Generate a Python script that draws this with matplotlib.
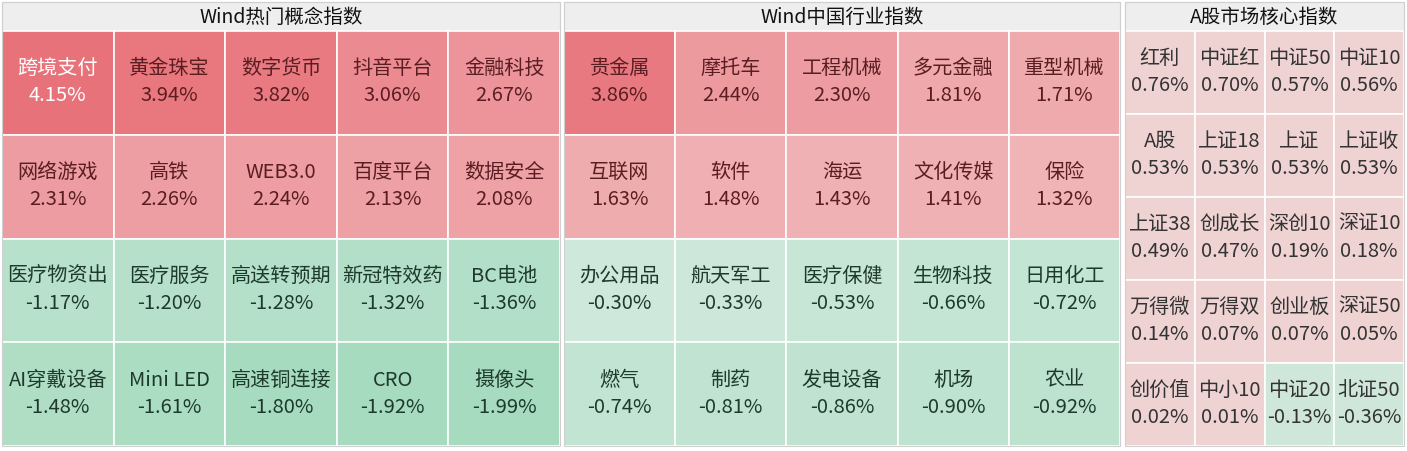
import matplotlib
matplotlib.use("Agg")
import matplotlib.pyplot as plt
import numpy as np
from matplotlib.colors import to_rgb

plt.rcParams['font.family'] = ['Noto Sans CJK SC', 'DejaVu Sans']

titles = ["Wind热门概念指数", "Wind中国行业指数", "A股市场核心指数"]
p1_names = ["跨境支付","黄金珠宝","数字货币","抖音平台","金融科技",
            "网络游戏","高铁","WEB3.0","百度平台","数据安全",
            "医疗物资出","医疗服务","高送转预期","新冠特效药","BC电池",
            "AI穿戴设备","Mini LED","高速铜连接","CRO","摄像头"]
p1_vals = [4.15,3.94,3.82,3.06,2.67,2.31,2.26,2.24,2.13,2.08,
           -1.17,-1.20,-1.28,-1.32,-1.36,-1.48,-1.61,-1.80,-1.92,-1.99]
p2_names = ["贵金属","摩托车","工程机械","多元金融","重型机械",
            "互联网","软件","海运","文化传媒","保险",
            "办公用品","航天军工","医疗保健","生物科技","日用化工",
            "燃气","制药","发电设备","机场","农业"]
p2_vals = [3.86,2.44,2.30,1.81,1.71,1.63,1.48,1.43,1.41,1.32,
           -0.30,-0.33,-0.53,-0.66,-0.72,-0.74,-0.81,-0.86,-0.90,-0.92]
p3_names = ["红利","中证红","中证50","中证10",
            "A股","上证18","上证","上证收",
            "上证38","创成长","深创10","深证10",
            "万得微","万得双","创业板","深证50",
            "创价值","中小10","中证20","北证50"]
p3_vals = [0.76,0.70,0.57,0.56,0.53,0.53,0.53,0.53,0.49,0.47,0.19,0.18,
           0.14,0.07,0.07,0.05,0.02,0.01,-0.13,-0.36]

def mix(c1, c2, t):
    a, b = np.array(to_rgb(c1)), np.array(to_rgb(c2))
    return tuple(a + (b - a) * np.clip(t, 0, 1))

def color(v, panel):
    if panel == 3:
        return "#EFD3D3" if v >= 0 else "#CFE7DA"
    if v >= 0:
        return mix("#F4D2D2", "#E8727A", v / 4.15)
    return mix("#D6EBE0", "#A6DBBF", -v / 1.8)

fig = plt.figure(figsize=(14.07, 4.51), dpi=100)
ax = fig.add_axes([0, 0, 1, 1])
ax.set_xlim(0, 1407); ax.set_ylim(451, 0); ax.axis('off')

panels = [(2, 560, 5, 4, p1_names, p1_vals, 1),
          (564, 1120, 5, 4, p2_names, p2_vals, 2),
          (1125, 1404, 4, 5, p3_names, p3_vals, 3)]
top, hb, bot = 2, 31, 446
for (x0, x1, nc, nr, names, vals, pid), title in zip(panels, titles):
    ax.add_patch(plt.Rectangle((x0, top), x1 - x0, hb - top, fc="#EEEEEE", ec="#D0D0D0", lw=0.8))
    ax.text((x0 + x1) / 2, (top + hb) / 2 + 1, title, ha='center', va='center', fontsize=14, color="#111111")
    cw = (x1 - x0) / nc; rh = (bot - hb) / nr
    for i, (n, v) in enumerate(zip(names, vals)):
        r, c = divmod(i, nc)
        cx, cy = x0 + c * cw, hb + r * rh
        ax.add_patch(plt.Rectangle((cx, cy), cw, rh, fc=color(v, pid), ec="white", lw=1.2))
        if pid == 3:
            tc = "#333333"
        elif v >= 0:
            tc = "white" if v > 4.0 else "#5A1E22"
        else:
            tc = "#1E3A2C"
        fs = 14.5
        ax.text(cx + cw / 2, cy + rh / 2 - 14, n, ha='center', va='center', fontsize=fs, color=tc)
        ax.text(cx + cw / 2, cy + rh / 2 + 13, f"{v:.2f}%", ha='center', va='center', fontsize=fs, color=tc)
    ax.add_patch(plt.Rectangle((x0, top), x1 - x0, bot - top, fc="none", ec="#D0D0D0", lw=0.8))

fig.savefig("out.png", dpi=100)
